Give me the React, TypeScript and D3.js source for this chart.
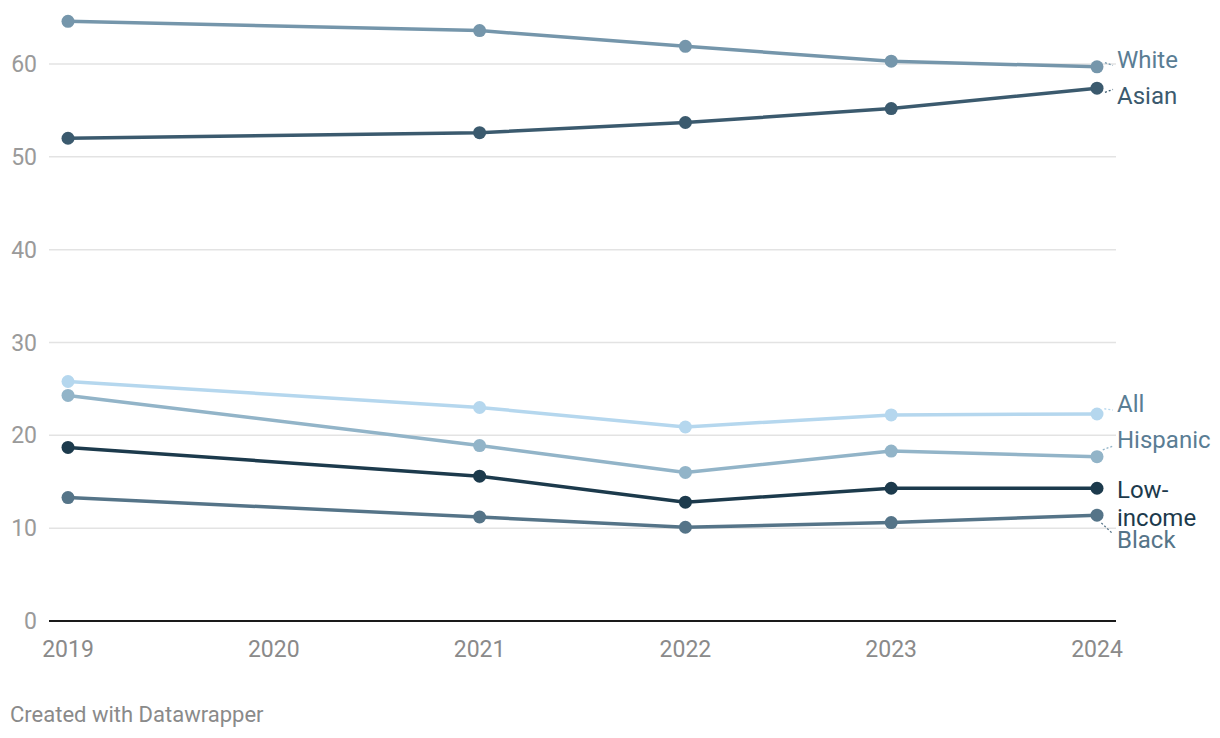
import React, { useEffect } from "react";
import * as d3 from "d3";

const years = [2019, 2021, 2022, 2023, 2024];
const xTicks = [2019, 2020, 2021, 2022, 2023, 2024];
const yTicks = [0, 10, 20, 30, 40, 50, 60];

const seriesNames = ["White", "Asian", "All", "Hispanic", "Low-income", "Black"];
const white = [64.6, 63.6, 61.9, 60.3, 59.7];
const asian = [52.0, 52.6, 53.7, 55.2, 57.4];
const all = [25.8, 23.0, 20.9, 22.2, 22.3];
const hispanic = [24.3, 18.9, 16.0, 18.3, 17.7];
const lowIncome = [18.7, 15.6, 12.8, 14.3, 14.3];
const black = [13.3, 11.2, 10.1, 10.6, 11.4];

const lineColors = ["#7596ab", "#3b5a6e", "#b5d7ee", "#92b4c8", "#1c3a4c", "#557488"];
const labelColors = ["#5a7d94", "#3b5a6e", "#5a7d94", "#5a7d94", "#1c3a4c", "#557488"];
const labelLines = [["White"], ["Asian"], ["All"], ["Hispanic"], ["Low-", "income"], ["Black"]];

const W = 1220;
const H = 738;
const FONT = "Roboto, 'Noto Sans', sans-serif";

export default function App() {
  useEffect(() => {
    document.body.style.margin = "0";
  }, []);

  const values = [white, asian, all, hispanic, lowIncome, black];
  const x = d3.scaleLinear().domain([2019, 2024]).range([68, 1097]);
  const y = d3.scaleLinear().domain([0, 60]).range([621, 64]);
  const left = 49;
  const right = 1116;

  const line = d3
    .line<[number, number]>()
    .x((d) => x(d[0]))
    .y((d) => y(d[1]));

  // label dodging
  const lineStep = 28;
  const blockH = (n: number) => n * 22 + (n - 1) * 6;
  const pad = 14;
  const items = values.map((v, i) => ({
    i,
    target: y(v[v.length - 1]),
    pos: y(v[v.length - 1]),
    h: blockH(labelLines[i].length),
  }));
  items.sort((a, b) => a.target - b.target);
  for (let iter = 0; iter < 2000; iter++) {
    let moved = false;
    for (let k = 1; k < items.length; k++) {
      const a = items[k - 1];
      const b = items[k];
      const minD = (a.h + b.h) / 2 + pad;
      const d = b.pos - a.pos;
      if (d < minD - 0.01) {
        const shift = (minD - d) / 2;
        a.pos -= shift;
        b.pos += shift;
        moved = true;
      }
    }
    if (!moved) break;
  }
  const labelPos: number[] = [];
  items.forEach((it) => (labelPos[it.i] = it.pos));

  const labelX = 1117;
  const lastX = x(2024);

  return (
    <svg width={W} height={H} style={{ display: "block" }} fontFamily={FONT}>
      <rect width={W} height={H} fill="#ffffff" />
      {yTicks.map((t) =>
        t === 0 ? null : (
          <line key={"g" + t} x1={left} x2={right} y1={y(t)} y2={y(t)} stroke="#e3e3e3" strokeWidth={1.5} />
        )
      )}
      <line x1={left} x2={right} y1={y(0)} y2={y(0)} stroke="#1a1a1a" strokeWidth={2} />
      {yTicks.map((t) => (
        <text key={"yt" + t} x={37} y={y(t)} dy="0.35em" textAnchor="end" fontSize={23} fill="#9a9a9a">
          {t}
        </text>
      ))}
      {xTicks.map((t) => (
        <text key={"xt" + t} x={x(t)} y={657} textAnchor="middle" fontSize={23} fill="#8a8a8a">
          {t}
        </text>
      ))}
      {values.map((v, i) => {
        const pts = years.map((yr, k) => [yr, v[k]] as [number, number]);
        return (
          <g key={"s" + i}>
            <path d={line(pts) || ""} fill="none" stroke={lineColors[i]} strokeWidth={3.5} strokeLinejoin="round" />
            {pts.map((p, k) => (
              <circle key={k} cx={x(p[0])} cy={y(p[1])} r={6.5} fill={lineColors[i]} />
            ))}
          </g>
        );
      })}
      {values.map((v, i) => {
        const py = y(v[v.length - 1]);
        const ly = labelPos[i];
        const dyTxt = ly - py;
        const showConnector = Math.abs(dyTxt) > 4;
        const dx = labelX - 6 - lastX;
        const len = Math.hypot(dx, dyTxt);
        const sx = lastX + (dx / len) * 9;
        const sy = py + (dyTxt / len) * 9;
        const lines = labelLines[i];
        const startY = ly;
        return (
          <g key={"l" + i}>
            {showConnector && (
              <line
                x1={sx}
                y1={sy}
                x2={labelX - 4}
                y2={ly + (dyTxt > 0 ? -6 : 6)}
                stroke={lineColors[i]}
                strokeWidth={1.3}
                strokeDasharray="2,2"
              />
            )}
            <text x={labelX} fontSize={24} fill={labelColors[i]}>
              {lines.map((s, k) => (
                <tspan key={k} x={labelX} y={startY + k * lineStep} dy="0.35em">
                  {s}
                </tspan>
              ))}
            </text>
          </g>
        );
      })}
      <text x={10} y={722} fontSize={22} fill="#8a8a8a">
        Created with Datawrapper
      </text>
    </svg>
  );
}
